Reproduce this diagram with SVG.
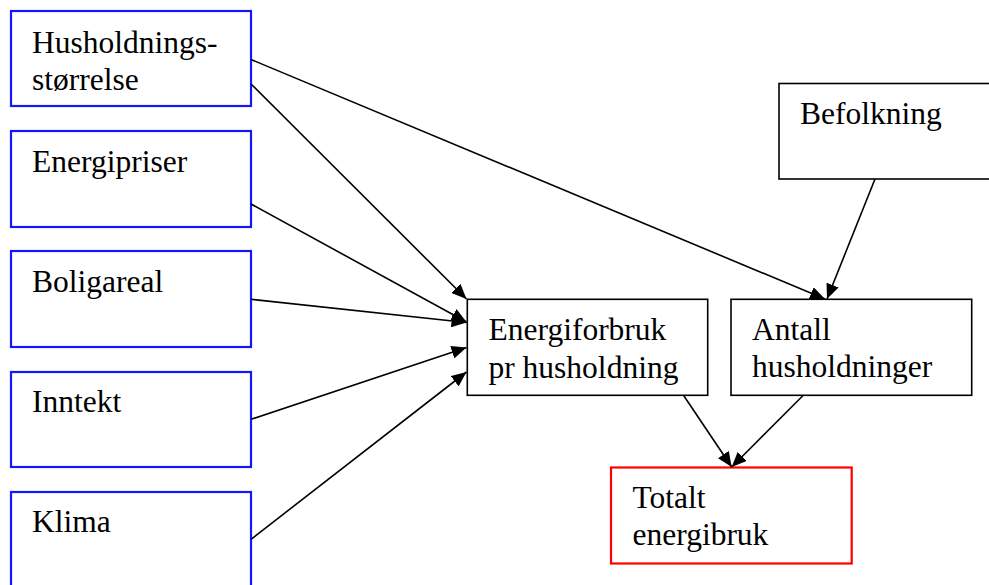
<svg xmlns="http://www.w3.org/2000/svg" width="989" height="585" viewBox="0 0 989 585">
<defs>
<marker id="ah" markerUnits="userSpaceOnUse" markerWidth="16" markerHeight="13" refX="15" refY="6.5" orient="auto">
<path d="M0,0 L15,6.5 L0,13 z" fill="#000"/>
</marker>
<style>
.t{font-family:"Liberation Serif","Times New Roman",serif;font-size:31.5px;fill:#000}
.blue{fill:#fff;stroke:#1515ff;stroke-width:2.2}
.blk{fill:#fff;stroke:#000;stroke-width:1.6}
.red{fill:#fff;stroke:#ff0000;stroke-width:2.2}
.c{stroke:#000;stroke-width:1.6;fill:none;marker-end:url(#ah)}
</style>
</defs>
<rect width="989" height="585" fill="#fff"/>
<g id="n-husholdningsstorrelse"><rect class="blue" x="11" y="11" width="240" height="95"/><text class="t" x="32" y="53">Husholdnings-</text><text class="t" x="32" y="89.5">størrelse</text></g>
<g id="n-energipriser"><rect class="blue" x="11" y="131" width="240" height="96"/><text class="t" x="32" y="172">Energipriser</text></g>
<g id="n-boligareal"><rect class="blue" x="11" y="251" width="240" height="96"/><text class="t" x="32" y="292">Boligareal</text></g>
<g id="n-inntekt"><rect class="blue" x="11" y="372" width="240" height="95"/><text class="t" x="32" y="412">Inntekt</text></g>
<g id="n-klima"><rect class="blue" x="11" y="492" width="240" height="100"/><text class="t" x="32" y="532">Klima</text></g>
<g id="n-befolkning"><rect class="blk" x="779" y="83.5" width="220" height="95.5"/><text class="t" x="800" y="123.5">Befolkning</text></g>
<g id="n-energiforbruk"><rect class="blk" x="467.3" y="299.3" width="240.4" height="96"/><text class="t" x="488.5" y="340">Energiforbruk</text><text class="t" x="488.5" y="377.5">pr husholdning</text></g>
<g id="n-antall"><rect class="blk" x="731" y="299.3" width="240.7" height="96"/><text class="t" x="752" y="340">Antall</text><text class="t" x="752" y="377">husholdninger</text></g>
<g id="n-totalt"><rect class="red" x="611" y="467.5" width="240.7" height="96"/><text class="t" x="632.5" y="507.5">Totalt</text><text class="t" x="632.5" y="544.5">energibruk</text></g>
<g id="connectors">
<line class="c" x1="251" y1="59.5" x2="825" y2="299"/>
<line class="c" x1="251" y1="84" x2="466.5" y2="299"/>
<line class="c" x1="251" y1="204" x2="466.5" y2="322"/>
<line class="c" x1="251" y1="299.3" x2="466.5" y2="322.5"/>
<line class="c" x1="251" y1="419.3" x2="466.5" y2="347.5"/>
<line class="c" x1="251" y1="539.3" x2="466.5" y2="372"/>
<line class="c" x1="875" y1="179" x2="827" y2="299"/>
<line class="c" x1="683.5" y1="395.3" x2="731.7" y2="467"/>
<line class="c" x1="803.3" y1="395.3" x2="731.7" y2="467"/>
</g>
</svg>
